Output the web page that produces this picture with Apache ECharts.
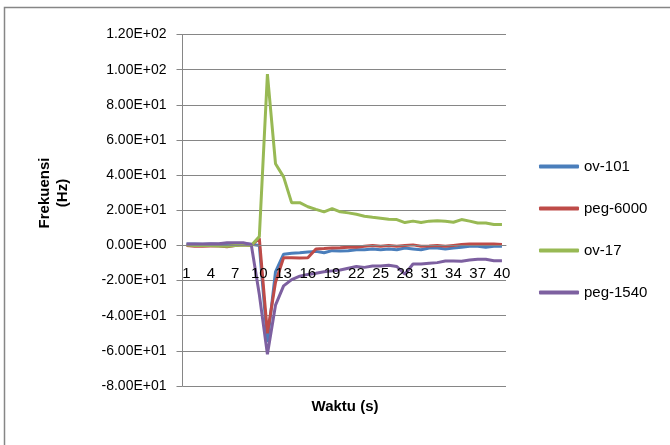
<!DOCTYPE html>
<html>
<head>
<meta charset="utf-8">
<script src="https://cdn.jsdelivr.net/npm/echarts@6/dist/echarts.min.js"></script>
<style>
html,body{margin:0;padding:0;background:#fff;}
#chart{width:670px;height:445px;}
</style>
</head>
<body>
<div id="chart"></div>
<script>
var categories = [];
for (var k = 1; k <= 40; k++) categories.push(String(k));

var seriesNames = ['ov-101', 'peg-6000', 'ov-17', 'peg-1540'];

var ov101 = [0.8, 0.8, 0.7, 0.8, 0.7, 0.9, 1.0, 0.9, 0.6, 0,
  -55, -15, -5, -4.5, -4.2, -3.8, -3.4, -4.2, -3, -3.2,
  -3, -2.5, -2.5, -2, -2.5, -2, -2.5, -1.5, -2, -2.5,
  -1.5, -1.5, -2, -1.5, -1, -0.5, -0.5, -1, -0.5, -0.5];

var peg6000 = [0, -0.5, -0.5, -0.3, -0.3, -0.8, 0, 0.3, 0, 4,
  -50, -21, -7, -7, -7.2, -7, -2, -1.8, -1.5, -1.3,
  -1, -1, -0.5, 0, -0.5, 0, -0.5, 0, 0.3, -0.5,
  -0.3, 0, -0.5, 0, 0.5, 0.8, 0.8, 0.8, 0.8, 0.5];

var ov17 = [0.2, 0, 0, 0, -0.3, -0.5, 0, 0.2, 0, 5,
  97.5, 46.5, 39, 24.2, 24.3, 22, 20.5, 19.1, 20.9, 19.1,
  18.5, 17.7, 16.6, 16, 15.5, 14.9, 14.7, 13, 13.8, 13,
  13.8, 14, 13.8, 13.2, 14.7, 13.8, 12.7, 12.7, 11.9, 11.9];

var peg1540 = [0.8, 0.8, 0.8, 1, 1, 1.5, 1.5, 1.5, 0.5, -28,
  -62, -34, -23, -19.5, -17.5, -16.5, -15.8, -15, -14.5, -14,
  -13, -12, -12.5, -11.7, -11.7, -11.3, -12, -16.4, -10.6, -10.6,
  -10.2, -9.8, -8.9, -8.9, -9, -8.3, -7.9, -7.9, -8.7, -8.7];

var yMin = -80, yMax = 120, yStep = 20;
var colors = ['#4A7EBB', '#BE4B48', '#98B954', '#7D60A0'];
var seriesData = [ov101, peg6000, ov17, peg1540];

function sci(v) {
  var s = Number(v).toExponential(2);
  var parts = s.split('e');
  var exp = parseInt(parts[1], 10);
  var sign = exp < 0 ? '-' : '+';
  var a = Math.abs(exp);
  return parts[0] + 'E' + sign + (a < 10 ? '0' + a : String(a));
}

var FONT = '"Liberation Sans", Arial, sans-serif';
var W = 670, H = 445;
var gridTop = 34.5, gridBottom = 59;
var gridH = H - gridTop - gridBottom;
// move the category axis up so it sits on the value 0 line
var xOffset = -gridH * (0 - yMin) / (yMax - yMin);

var chart = echarts.init(document.getElementById('chart'), null, {renderer: 'canvas'});

var series = seriesNames.map(function (name, i) {
  return {
    name: name,
    type: 'line',
    data: seriesData[i],
    symbol: 'none',
    smooth: false,
    lineStyle: {width: 3, color: colors[i]},
    itemStyle: {color: colors[i]}
  };
});

chart.setOption({
  animation: false,
  backgroundColor: '#ffffff',
  grid: {left: 182.5, right: 164, top: gridTop, bottom: gridBottom, containLabel: false},
  legend: {
    orient: 'vertical',
    left: 534,
    top: 154,
    icon: 'roundRect',
    itemWidth: 40,
    itemHeight: 4,
    itemGap: 27,
    data: seriesNames,
    textStyle: {fontFamily: FONT, fontSize: 15, color: '#000'}
  },
  xAxis: {
    type: 'category',
    data: categories,
    boundaryGap: true,
    offset: xOffset,
    z: 5,
    axisLine: {show: true, onZero: false, lineStyle: {color: '#868686', width: 1}},
    axisTick: {show: false},
    axisLabel: {interval: 2, margin: 21, fontFamily: FONT, fontSize: 15, color: '#000'},
    splitLine: {show: false}
  },
  yAxis: {
    type: 'value',
    min: yMin,
    max: yMax,
    interval: yStep,
    axisLine: {show: true, lineStyle: {color: '#868686', width: 1}},
    axisTick: {show: true, inside: false, length: 6, lineStyle: {color: '#868686'}},
    axisLabel: {formatter: sci, margin: 16, fontFamily: FONT, fontSize: 14, color: '#000'},
    splitLine: {show: true, lineStyle: {color: '#868686', width: 1}}
  },
  series: series,
  graphic: [
    {
      type: 'rect',
      shape: {x: 4.5, y: 7.5, width: 700, height: 500},
      style: {fill: 'none', stroke: '#868686', lineWidth: 1.5},
      silent: true
    },
    {
      type: 'text',
      x: 54,
      y: 193,
      rotation: Math.PI / 2,
      style: {
        text: 'Frekuensi\n(Hz)',
        fontFamily: FONT,
        fontSize: 15,
        fontWeight: 'bold',
        fill: '#000',
        align: 'center',
        verticalAlign: 'middle',
        lineHeight: 18
      }
    },
    {
      type: 'text',
      x: 345,
      y: 407,
      style: {
        text: 'Waktu (s)',
        fontFamily: FONT,
        fontSize: 15,
        fontWeight: 'bold',
        fill: '#000',
        align: 'center',
        verticalAlign: 'middle'
      }
    }
  ]
});
</script>
</body>
</html>
